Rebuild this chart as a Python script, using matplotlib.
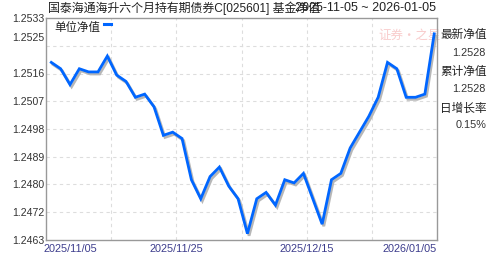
import matplotlib
matplotlib.use("Agg")
import matplotlib.pyplot as plt
import matplotlib.patheffects as pe
import matplotlib.transforms as mtransforms
import numpy as np

plt.rcParams['font.family'] = ['Liberation Sans', 'Noto Sans CJK SC', 'DejaVu Sans']

# ---- data ----
nav = [1.2519, 1.2517, 1.2512, 1.2517, 1.2516, 1.2516, 1.2521, 1.2515, 1.2513, 1.2508,
       1.2509, 1.2505, 1.2496, 1.2497, 1.2495, 1.2482, 1.2476, 1.2483, 1.2486, 1.2480,
       1.2476, 1.2465, 1.2476, 1.2478, 1.2474, 1.2482, 1.2481, 1.2484, 1.2476, 1.2468,
       1.2482, 1.2484, 1.2492, 1.2497, 1.2502, 1.2508, 1.2519, 1.2517, 1.2508, 1.2508,
       1.2509, 1.2528]
x_labels = ["2025/11/05", "2025/11/25", "2025/12/15", "2026/01/05"]
y_min, y_max = 1.2463, 1.2533
y_tick_labels = ["1.2463", "1.2472", "1.2480", "1.2489", "1.2498",
                 "1.2507", "1.2516", "1.2525", "1.2533"]
title = "国泰海通海升六个月持有期债券C[025601] 基金净值"
date_range = "2025-11-05 ~ 2026-01-05"
legend_label = "单位净值"
side_labels = ["最新净值", "累计净值", "日增长率"]
side_values = ["1.2528", "1.2528", "0.15%"]

W, H = 488, 255
fig = plt.figure(figsize=(W / 100, H / 100), dpi=100)
fig.patch.set_facecolor('white')
L, R, T, B = 46, 437, 19, 241
ax = fig.add_axes([L / W, (H - B) / H, (R - L) / W, (B - T) / H])

x = np.arange(len(nav))
step = (434.2 - 51.3) / (len(nav) - 1)
xl = -(51.3 - L) / step
xr = (len(nav) - 1) + (R - 434.2) / step
ax.set_xlim(xl, xr)
ax.set_ylim(y_min, y_max)

# watermark
ax.text(0.93, 0.925, "证券·之星", transform=ax.transAxes, ha='center', va='center',
        fontsize=9, color='#f7c0c0', family=['Noto Sans CJK SC'], alpha=0.8, zorder=0)

# grid
yt = np.linspace(y_min, y_max, len(y_tick_labels))
for v in yt[1:-1]:
    ax.axhline(v, color='#dddddd', lw=0.8, ls=(0, (3, 3)), zorder=0)
for k in range(1, 6):
    ax.axvline(xl + (xr - xl) * k / 6, color='#dddddd', lw=0.8, ls=(0, (3, 3)), zorder=0)

ax.plot(x, nav, color='#0066ff', lw=2.0, solid_joinstyle='miter', zorder=3,
        path_effects=[pe.SimpleLineShadow(offset=(1.2, -1.5), shadow_color='#b0b0b0', alpha=0.9),
                      pe.Normal()])

for s in ax.spines.values():
    s.set_color('#999999')
    s.set_linewidth(1.0)
ax.set_xticks([])
ax.set_yticks([])

# y tick labels
for i, (v, lab) in enumerate(zip(yt, y_tick_labels)):
    off = 0
    if i == 7:
        off = 9 / 100 * 72  # shifted up like the reference
    tr = ax.get_yaxis_transform() + mtransforms.ScaledTranslation(0, off / 72, fig.dpi_scale_trans)
    ax.text(-0.005, v, lab, transform=tr, ha='right', va='center',
            fontsize=7.6, color='#333333')

# x labels
xpos = [(0, 'left', -2), (2 / 6, 'center', 0), (4 / 6, 'center', 0), (1, 'right', 0)]
for lab, (px, ha, dx) in zip(x_labels, xpos):
    tr = ax.transAxes + mtransforms.ScaledTranslation(dx / 100, 0, fig.dpi_scale_trans)
    ax.text(px, -0.015, lab, transform=tr, ha=ha, va='top', fontsize=7.8, color='#3c3c8c')

# title
fig.text(436 / W, 1 - 8 / H, date_range, ha='right', va='center', fontsize=9,
         color='#222222')
fig.text(48 / W, 1 - 8 / H, title, ha='left', va='center', fontsize=8.6,
         family=['Liberation Sans', 'Noto Sans CJK SC'], color='#222222')

# legend
ax.text((54 - L) / (R - L), 1 - (28 - T) / (B - T), legend_label,
        transform=ax.transAxes, ha='left', va='center', fontsize=8.3,
        family=['Noto Sans CJK SC'], color='#222222')
fig.add_artist(plt.Line2D([104 / W, 111 / W], [1 - 25 / H, 1 - 25 / H], color='#0066ff', lw=2.2))

# side panel
side_y = [34, 71, 108]
val_y = [53, 89, 125]
for lab, val, yl, yv in zip(side_labels, side_values, side_y, val_y):
    fig.text(440 / W, 1 - yl / H, lab, ha='left', va='center', fontsize=8.4,
             family=['Noto Sans CJK SC'], color='#222222')
    fig.text(486 / W, 1 - yv / H, val, ha='right', va='center', fontsize=7.8, color='#333333')

fig.savefig("out.png", dpi=100, facecolor='white')
